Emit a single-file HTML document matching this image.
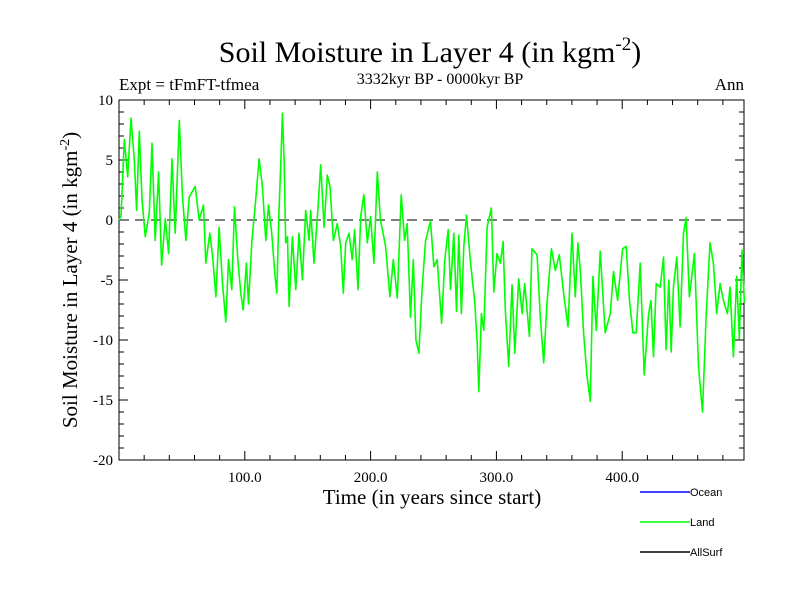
<!DOCTYPE html>
<html><head><meta charset="utf-8"><style>
body{margin:0;background:#fff;}
svg{display:block;font-family:"Liberation Serif",serif;}
</style></head><body>
<svg id="chart" width="800" height="600">
<text x="430" y="62" font-size="30" text-anchor="middle">Soil Moisture in Layer 4 (in kgm<tspan dy="-12" font-size="19">-2</tspan><tspan dy="12">)</tspan></text>
<text x="119" y="90" font-size="17">Expt = tFmFT-tfmea</text>
<text x="440" y="84" font-size="16" text-anchor="middle">3332kyr BP - 0000kyr BP</text>
<text x="744" y="90" font-size="17" text-anchor="end">Ann</text>
<text transform="translate(77,280) rotate(-90)" font-size="21" text-anchor="middle">Soil Moisture in Layer 4 (in kgm<tspan dy="-8" font-size="14">-2</tspan><tspan dy="8">)</tspan></text>
<text x="432" y="504" font-size="21" text-anchor="middle">Time (in years since start)</text>
<g id="axes"></g>
<g id="plot"></g>
<g font-family="Liberation Sans, sans-serif" font-size="11">
<line x1="640" y1="492" x2="690" y2="492" stroke="#0000ff" stroke-width="1.5"/>
<text x="690" y="496">Ocean</text>
<line x1="640" y1="522" x2="690" y2="522" stroke="#00ff00" stroke-width="1.5"/>
<text x="690" y="526">Land</text>
<line x1="640" y1="552" x2="690" y2="552" stroke="#000" stroke-width="1.5"/>
<text x="690" y="556">AllSurf</text>
</g>
</svg>
<script>
const years=[0,1.6,4.2,6.9,9.5,12.2,14,16.1,18.3,20.9,24.1,26.2,28.8,31.5,33.9,36.8,39.4,42.1,44.7,47.9,50.5,53.2,55.8,60.6,63.7,67.2,69,72.2,74.4,77,79.6,82.3,84.9,87,89.7,91.8,94.4,96.8,98.7,101.3,102.9,105.6,108.2,111.4,114,116.7,118.8,121.4,124.1,125.4,127.2,128.6,129.9,131.2,132.5,133.9,135.2,137.8,140.5,143.1,145.8,148.4,151.1,152.4,155,157.7,160.3,163,165.6,167.7,170.4,173.5,176.2,178.3,180.2,182.8,185.4,187.3,190,192.1,194.7,197.4,200,202.6,205.3,207.9,211.9,215.3,218,221.2,224.3,227,229.1,231.7,233.9,236,238.4,241,243.7,247.6,250.3,252.9,256.4,259,261.7,263.5,266.1,268.3,270.1,272.2,274.1,276.2,279.4,282.8,284.7,286,288.1,290,292.6,296,297.9,300.5,303.2,305.3,307.1,309.8,312.4,314.6,317.7,320.4,322.5,326.2,328.3,332.3,334.9,337.6,340.2,343.7,346.8,350,353.4,356.9,360.1,362.7,364.8,366.7,369.3,372,374.6,376.7,379.4,382.5,386.5,390.5,393.1,396.3,400.3,403.2,405.8,408.5,411.1,414.3,417.5,420.9,422.8,424.9,427,430.2,432.8,434.9,437,438.9,440.7,443.4,446,448.7,450.8,453.4,457.4,460.6,463.8,466.7,469.8,472.5,475.1,477.8,480.4,483.6,485.7,488.4,491,493.1,495.2,497.1];
const landValues=[0,0.3,6.7,3.6,8.5,5,0.8,7.4,1.7,-1.4,0.6,6.4,-1.7,4,-3.75,0.1,-2.8,5.1,-1.1,8.3,1.9,-1.7,1.9,2.8,0,1.25,-3.6,-1.1,-3,-6.4,-0.6,-5.3,-8.5,-3.3,-5.8,1.1,-3.3,-6.1,-7.5,-3.6,-7,-1.7,1.1,5.1,2.8,-1.7,1.25,-1.1,-4.7,-6.1,0.8,4.7,8.9,5,-1.9,-1.4,-7.2,-1.4,-5.8,-1.1,-5,0.8,-1.7,0.8,-3.6,0.3,4.6,-0.6,3.75,2.8,-1.7,-0.3,-2.2,-6.1,-1.9,-1.1,-3.3,-0.8,-5.8,0.3,2.1,-1.9,0.3,-3.6,4,0,-2.2,-6.4,-3.3,-6.5,2.1,-1.7,-0.3,-8.1,-3.3,-10,-11.1,-5.6,-1.7,-0.1,-3.9,-3.3,-8.6,-3.3,-0.8,-5.8,-1.1,-7.6,-1.25,-7.8,-2.2,0.4,-3.5,-6.9,-10.3,-14.3,-7.8,-9.2,-0.6,1,-6,-2.8,-3.6,-1.8,-7.5,-12.2,-5.4,-11.1,-4.9,-7.8,-5.3,-9.7,-2.4,-2.9,-8.1,-11.9,-6.9,-2.4,-4.2,-2.9,-6.1,-8.9,-1.1,-6.4,-1.9,-4.2,-9.4,-13,-15.1,-4.7,-9.2,-2.6,-9.4,-7.8,-4.3,-6.7,-2.4,-2.2,-6.7,-9.4,-9.4,-3.6,-12.9,-7.9,-6.7,-11.4,-5.3,-5.6,-3.1,-10.8,-5,-11,-5.6,-3.1,-8.9,-1.1,0.2,-6.4,-2.8,-12.2,-16,-8.1,-1.9,-3.6,-7.8,-5.3,-6.7,-7.8,-5.6,-11.4,-4.7,-9.9,-2.5,-6.9];
const yTickValues=[10,5,0,-5,-10,-15,-20];
const yTickLabels=["10","5","0","-5","-10","-15","-20"];
const xTickValues=[100,200,300,400];
const xTickLabels=["100.0","200.0","300.0","400.0"];

const L=119,R=744,T=100,B=460,X0=0,X1=496.8,Y0=-20,Y1=10;
function sx(v){return L+(v-X0)/(X1-X0)*(R-L);}
function sy(v){return B-(v-Y0)/(Y1-Y0)*(B-T);}
const NS="http://www.w3.org/2000/svg";
const axes=document.getElementById('axes'),plot=document.getElementById('plot');
function mk(tag,attrs,parent){const e=document.createElementNS(NS,tag);for(const k in attrs)e.setAttribute(k,attrs[k]);parent.appendChild(e);return e;}

const frame=mk('rect',{x:L,y:T,width:R-L,height:B-T,fill:'none',stroke:'#000','stroke-width':1},axes);


// minor y ticks
for(let v=Y0;v<=Y1;v++){
  const len=(v%5===0)?9:5;
  const t1=mk('line',{x1:L,x2:L+len,y1:sy(v),y2:sy(v),stroke:'#000'},axes);
  
  
  const t2=mk('line',{x1:R,x2:R-len,y1:sy(v),y2:sy(v),stroke:'#000'},axes);
  
  
}
for(let v=20;v<X1;v+=20){
  const len=(v%100===0)?9:5;
  const t1=mk('line',{x1:sx(v),x2:sx(v),y1:B,y2:B-len,stroke:'#000'},axes);
  
  
  const t2=mk('line',{x1:sx(v),x2:sx(v),y1:T,y2:T+len,stroke:'#000'},axes);
  
  
}
yTickValues.forEach((v,i)=>{
  const t=mk('text',{x:L-6,y:sy(v)+5,'font-size':15,'text-anchor':'end'},axes);
  t.textContent=yTickLabels[i];
  
  
});
xTickValues.forEach((v,i)=>{
  const t=mk('text',{x:sx(v),y:B+22,'font-size':15,'text-anchor':'middle'},axes);
  t.textContent=xTickLabels[i];
  
  
});
const zl=mk('line',{x1:L,x2:R,y1:sy(0),y2:sy(0),stroke:'#555','stroke-width':1.5,'stroke-dasharray':'10,6'},plot);


const pts=years.map((y,i)=>sx(y).toFixed(1)+','+sy(landValues[i]).toFixed(1)).join(' ');
const line=mk('polyline',{points:pts,fill:'none',stroke:'#00ff00','stroke-width':1.6,'stroke-linejoin':'round'},plot);


</script>
</body></html>
